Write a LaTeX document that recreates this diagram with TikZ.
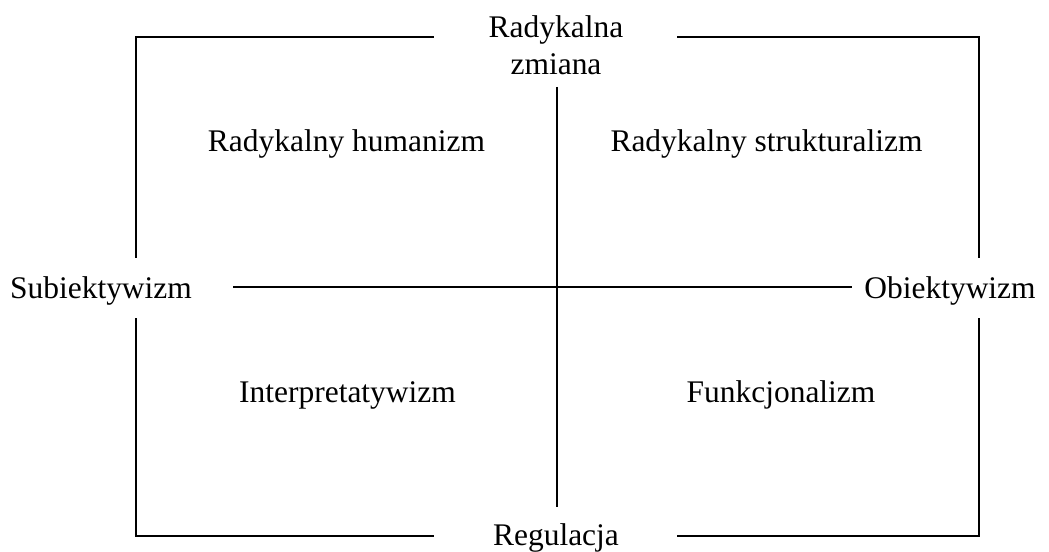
\documentclass[tikz,border=0pt]{standalone}
\usepackage{fontspec}
\setmainfont{Liberation Serif}
\begin{document}
\begin{tikzpicture}[x=0.75pt,y=-0.75pt,
  frame/.style={line width=1.5pt,line cap=rect},
  lbl/.style={inner sep=0pt,anchor=base,align=center,font=\fontsize{23.6}{27.75}\selectfont}]
\useasboundingbox (0,0) rectangle (1049,552);
% axis labels (base of a two-line node is its last line)
\node[lbl] (top) at (556,75) {Radykalna\\zmiana};
\node[lbl] (bot) at (556,545) {Regulacja};
\node[lbl] (lft) at (101,298) {Subiektywizm};
\node[lbl] (rgt) at (950,298) {Obiektywizm};
% quadrant labels
\node[lbl] (q1) at (346.5,152) {Radykalny humanizm};
\node[lbl] (q2) at (766.5,152) {Radykalny strukturalizm};
\node[lbl] (q3) at (347.5,402) {Interpretatywizm};
\node[lbl] (q4) at (781,402) {Funkcjonalizm};
% frame corners
\coordinate (tl) at (136,37);
\coordinate (tr) at (979,37);
\coordinate (bl) at (136,536);
\coordinate (br) at (979,536);
% frame pieces, broken around the axis labels
\draw[frame] (433,37) -- (tl) -- (136,257);
\draw[frame] (678,37) -- (tr) -- (979,257);
\draw[frame] (136,319) -- (bl) -- (433,536);
\draw[frame] (979,319) -- (br) -- (678,536);
% axes
\coordinate (vt) at (557,87);
\coordinate (vb) at (557,507);
\coordinate (hl) at (233,287);
\coordinate (hr) at (852,287);
\draw[frame,line cap=butt] (vt) -- (vb);
\draw[frame,line cap=butt] (hl) -- (hr);
\end{tikzpicture}
\end{document}
